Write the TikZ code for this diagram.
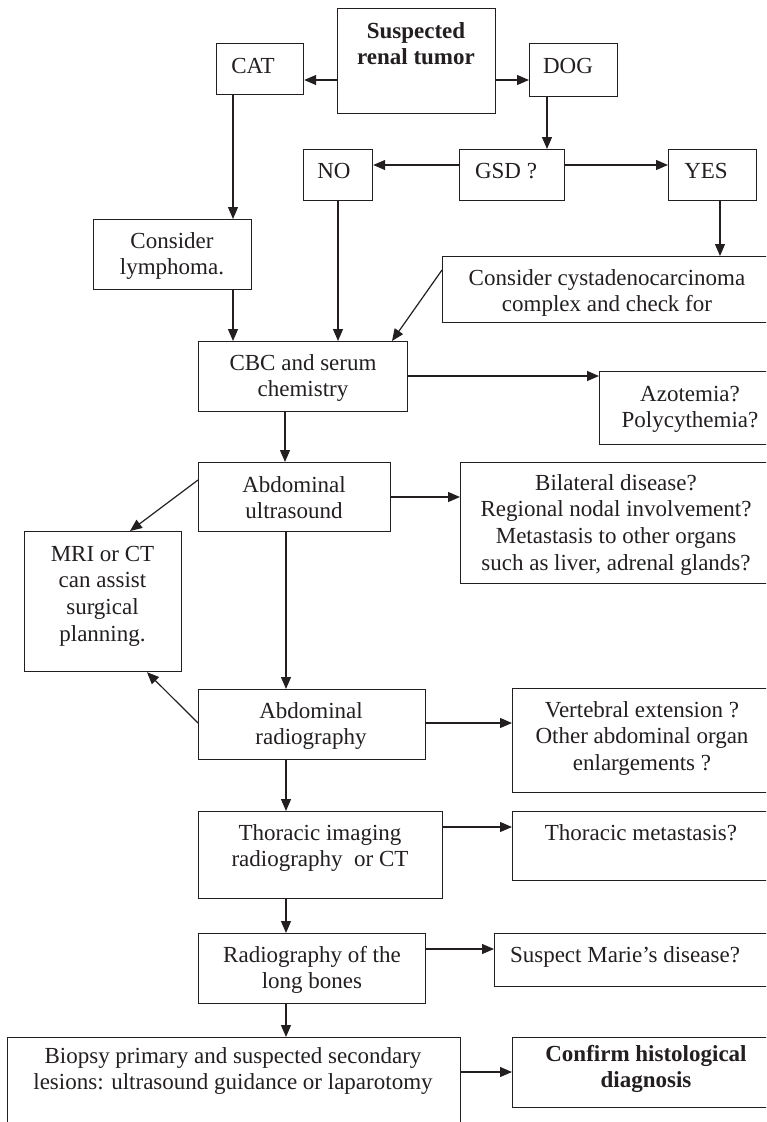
\documentclass[tikz,border=0pt]{standalone}
\usepackage{fontspec}
\setmainfont{Liberation Serif}
\usetikzlibrary{arrows.meta}
\definecolor{ink}{HTML}{231F20}
\tikzset{
  bx/.style={draw=ink, line width=1.2pt, rectangle, anchor=north west, inner sep=0pt},
  txt/.style={align=center, inner sep=0pt, anchor=north, text=ink, font=\fontsize{23}{26.6}\selectfont},
  txtb/.style={txt, font=\fontsize{23}{26.6}\selectfont\bfseries},
  arr/.style={-{Triangle[length=12pt,width=10pt]}, line width=1.2pt, draw=ink},
}
\newcommand\mybox[5]{\node[bx, minimum width={(#4-#2)*1pt}, minimum height={(#5-#3)*1pt}] (#1) at (#2,#3) {};}
\newcommand\mytext[5][txt]{\node[#1] (#2) at (#3,#4-18) {\rule{0pt}{18pt}#5};}
\begin{document}
\begin{tikzpicture}[x=1pt,y=-1pt]
\useasboundingbox (0,0) rectangle (766,1122);
\clip (0,0) rectangle (766,1122);
\fill[white] (0,0) rectangle (766,1122);
% boxes
\mybox{sus}{337}{8}{495}{113}
\mybox{cat}{216}{43}{303}{94}
\mybox{dog}{529}{43}{617}{96}
\mybox{no}{303}{149}{372}{200}
\mybox{gsd}{459}{149}{564}{200}
\mybox{yes}{668}{149}{756}{200}
\mybox{lym}{93}{219}{251}{289}
\mybox{cys}{442}{256}{790}{322}
\mybox{cbc}{198}{341}{407}{411}
\mybox{azo}{599}{371}{790}{444}
\mybox{us}{198}{462}{390}{531}
\mybox{bil}{460}{462}{790}{583}
\mybox{mri}{24}{531}{181}{671}
\mybox{rad}{198}{689}{425}{759}
\mybox{ver}{512}{688}{790}{792}
\mybox{tho}{198}{811}{442}{898}
\mybox{met}{512}{811}{790}{880}
\mybox{lon}{198}{933}{425}{1003}
\mybox{mar}{494}{933}{790}{986}
\mybox{bio}{7}{1037}{460}{1140}
\mybox{con}{512}{1037}{790}{1107}
% texts
\mytext[txtb]{sust}{416}{38}{Suspected\\renal tumor}
\mytext{catt}{253}{73}{CAT}
\mytext{dogt}{568}{73}{DOG}
\mytext{not}{334}{178}{NO}
\mytext{gsdt}{506}{178}{GSD ?}
\mytext{yest}{706}{178}{YES}
\mytext{lymt}{172}{248}{Consider\\lymphoma.}
\mytext{cyst}{607}{285}{Consider cystadenocarcinoma\\complex and check for}
\mytext{cbct}{303}{370}{CBC and serum\\chemistry}
\mytext{azot}{690}{401}{Azotemia?\\Polycythemia?}
\mytext{ust}{294}{492}{Abdominal\\ultrasound}
\mytext{bilt}{616}{490}{Bilateral disease?\\Regional nodal involvement?\\Metastasis to other organs\\such as liver, adrenal glands?}
\mytext{mrit}{102.5}{561}{MRI or CT\\can assist\\surgical\\planning.}
\mytext{radt}{311}{718}{Abdominal\\radiography}
\mytext{vert}{642}{717}{Vertebral extension ?\\Other abdominal organ\\enlargements ?}
\mytext{thot}{320}{840}{Thoracic imaging\\radiography\ \ or CT}
\mytext{mett}{641}{840}{Thoracic metastasis?}
\mytext{lont}{312}{962}{Radiography of the\\long bones}
\mytext{mart}{625}{962}{Suspect Marie’s disease?}
\mytext{biot}{233}{1063}{Biopsy primary and suspected secondary\\lesions: ultrasound guidance or laparotomy}
\mytext[txtb]{cont}{646}{1061}{Confirm histological\\diagnosis}
% connectors
\draw[arr] (sus.west |- 0,80) -- (cat.east |- 0,80);
\draw[arr] (sus.east |- 0,80) -- (dog.west |- 0,80);
\draw[arr] (dog.south -| 547,0) -- (gsd.north -| 547,0);
\draw[arr] (gsd.west |- 0,165) -- (no.east |- 0,165);
\draw[arr] (gsd.east |- 0,165) -- (yes.west |- 0,165);
\draw[arr] (cat.south -| 233,0) -- (lym.north -| 233,0);
\draw[arr] (yes.south -| 720,0) -- (cys.north -| 720,0);
\draw[arr] (no.south -| 338,0) -- (cbc.north -| 338,0);
\draw[arr] (lym.south -| 233,0) -- (cbc.north -| 233,0);
\draw[arr] (cys.west |- 0,270) -- (cbc.north -| 392,0);
\draw[arr] (cbc.east |- 0,376) -- (azo.west |- 0,376);
\draw[arr] (cbc.south -| 285,0) -- (us.north -| 285,0);
\draw[arr] (us.east |- 0,497) -- (bil.west |- 0,497);
\draw[arr] (us.west |- 0,480) -- (mri.north -| 130,0);
\draw[arr] (us.south -| 286,0) -- (rad.north -| 286,0);
\draw[arr] (rad.west |- 0,723) -- (mri.south -| 147,0);
\draw[arr] (rad.east |- 0,723) -- (ver.west |- 0,723);
\draw[arr] (rad.south -| 286,0) -- (tho.north -| 286,0);
\draw[arr] (tho.east |- 0,827) -- (met.west |- 0,827);
\draw[arr] (tho.south -| 286,0) -- (lon.north -| 286,0);
\draw[arr] (lon.east |- 0,949) -- (mar.west |- 0,949);
\draw[arr] (lon.south -| 286,0) -- (bio.north -| 286,0);
\draw[arr] (bio.east |- 0,1072) -- (con.west |- 0,1072);
\end{tikzpicture}
\end{document}
